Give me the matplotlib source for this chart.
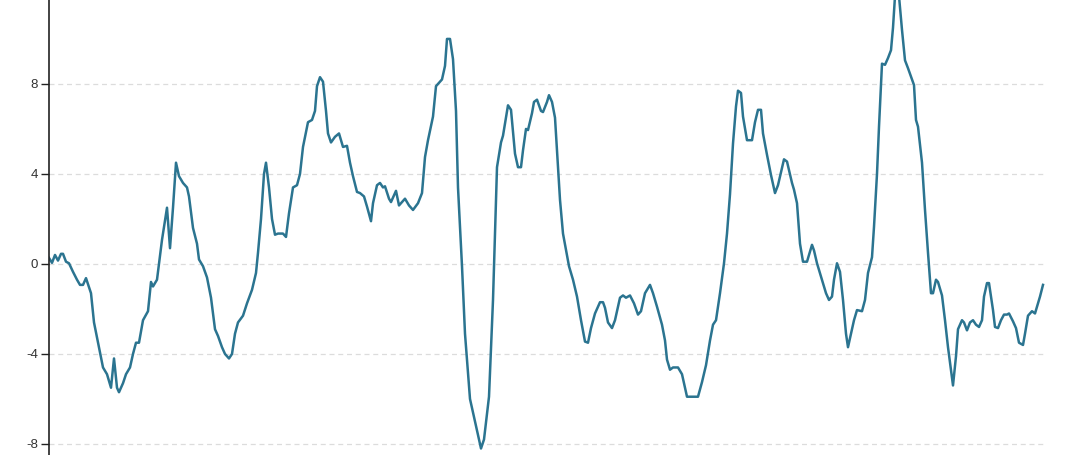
import matplotlib
matplotlib.use("Agg")
import matplotlib.pyplot as plt

# sample position (time units) and value
t = [49, 52, 55, 58, 61, 63, 66, 69, 73, 77,
     80, 83, 86, 91, 94, 99, 103, 107, 111, 114,
     117, 119, 123, 126, 130, 133, 136, 139, 143, 148,
     151, 153, 157, 162, 167, 170, 173, 176, 179, 183,
     187, 189, 193, 197, 199, 203, 207, 211, 215, 218,
     222, 225, 229, 232, 235, 238, 243, 247, 252, 256,
     258, 261, 264, 266, 269, 272, 275, 278, 283, 286,
     289, 293, 297, 300, 303, 308, 312, 315, 317, 320,
     323, 326, 328, 331, 335, 339, 343, 347, 350, 353,
     357, 360, 364, 367, 371, 373, 377, 380, 383, 385,
     389, 391, 396, 399, 405, 409, 413, 418, 422, 425,
     428, 433, 436, 442, 445, 447, 450, 453, 456, 458,
     462, 465, 470, 476, 481, 484, 489, 493, 497, 501,
     503, 508, 511, 515, 518, 521, 523, 526, 528, 532,
     534, 537, 541, 543, 547, 549, 552, 555, 557, 560,
     563, 567, 569, 573, 577, 581, 585, 588, 591, 595,
     600, 603, 605, 608, 612, 615, 620, 623, 626, 630,
     634, 638, 641, 645, 650, 653, 657, 662, 665, 667,
     670, 673, 678, 682, 685, 687, 692, 698, 702, 706,
     710, 713, 716, 720, 724, 727, 730, 733, 736, 738,
     741, 743, 747, 752, 755, 758, 761, 763, 767, 771,
     775, 778, 784, 787, 792, 794, 797, 800, 803, 807,
     812, 814, 817, 822, 826, 829, 832, 834, 837, 840,
     843, 846, 848, 852, 854, 857, 862, 865, 868, 872,
     874, 877, 879, 882, 885, 888, 891, 893, 895, 897,
     899, 902, 905, 908, 912, 914, 916, 918, 922, 925,
     928, 931, 933, 936, 938, 942, 945, 948, 953, 956,
     958, 962, 964, 967, 970, 973, 976, 979, 982, 984,
     987, 989, 993, 995, 998, 1001, 1004, 1007, 1009, 1013,
     1016, 1019, 1023, 1025, 1028, 1032, 1035, 1037, 1040, 1043]
value = [0.27, 0.05, 0.4, 0.15, 0.45, 0.45, 0.1, 0.03, -0.35, -0.7,
         -0.93, -0.93, -0.63, -1.3, -2.6, -3.7, -4.6, -4.9, -5.5, -4.2,
         -5.5, -5.7, -5.3, -4.9, -4.6, -4.0, -3.5, -3.5, -2.5, -2.1,
         -0.8, -1.0, -0.7, 1.07, 2.5, 0.7, 2.5, 4.5, 3.9, 3.6,
         3.4, 3.0, 1.6, 0.9, 0.2, -0.1, -0.6, -1.5, -2.9, -3.2,
         -3.7, -4.0, -4.2, -4.0, -3.1, -2.6, -2.3, -1.75, -1.15, -0.4,
         0.5, 2.0, 4.0, 4.5, 3.4, 2.0, 1.3, 1.35, 1.35, 1.2,
         2.25, 3.4, 3.5, 4.0, 5.2, 6.3, 6.4, 6.8, 7.9, 8.3,
         8.1, 6.8, 5.8, 5.4, 5.65, 5.8, 5.2, 5.25, 4.5, 3.9,
         3.2, 3.15, 3.0, 2.55, 1.9, 2.7, 3.5, 3.6, 3.4, 3.45,
         2.9, 2.75, 3.25, 2.6, 2.9, 2.6, 2.4, 2.7, 3.15, 4.75,
         5.5, 6.55, 7.9, 8.2, 8.8, 10.0, 10.0, 9.1, 6.8, 3.4,
         -0.1, -3.1, -6.0, -7.2, -8.2, -7.8, -5.9, -1.6, 4.3, 5.4,
         5.7, 7.05, 6.85, 4.9, 4.3, 4.3, 5.05, 6.0, 5.95, 6.7,
         7.2, 7.3, 6.8, 6.75, 7.2, 7.5, 7.2, 6.5, 5.05, 2.85,
         1.35, 0.4, -0.1, -0.7, -1.45, -2.5, -3.45, -3.5, -2.85, -2.2,
         -1.7, -1.7, -1.95, -2.6, -2.85, -2.5, -1.5, -1.4, -1.5, -1.4,
         -1.75, -2.25, -2.1, -1.3, -0.93, -1.3, -1.9, -2.7, -3.4, -4.25,
         -4.7, -4.6, -4.6, -4.9, -5.5, -5.9, -5.9, -5.9, -5.25, -4.5,
         -3.4, -2.7, -2.5, -1.3, 0.03, 1.35, 3.1, 5.35, 7.0, 7.7,
         7.6, 6.55, 5.5, 5.5, 6.3, 6.85, 6.85, 5.8, 4.85, 3.95,
         3.15, 3.5, 4.65, 4.55, 3.6, 3.3, 2.7, 0.9, 0.1, 0.1,
         0.85, 0.6, 0.03, -0.7, -1.3, -1.6, -1.45, -0.7, 0.03, -0.35,
         -1.6, -3.1, -3.7, -2.9, -2.5, -2.05, -2.1, -1.6, -0.4, 0.3,
         1.65, 4.0, 6.1, 8.9, 8.85, 9.15, 9.5, 10.5, 11.9, 12.3,
         11.9, 10.4, 9.05, 8.7, 8.2, 7.95, 6.4, 6.1, 4.5, 2.4,
         0.5, -1.3, -1.3, -0.7, -0.8, -1.4, -2.5, -3.7, -5.4, -4.1,
         -2.9, -2.5, -2.6, -2.95, -2.6, -2.5, -2.7, -2.8, -2.5, -1.45,
         -0.85, -0.85, -2.05, -2.8, -2.85, -2.5, -2.25, -2.25, -2.2, -2.55,
         -2.85, -3.5, -3.6, -3.1, -2.3, -2.1, -2.2, -1.9, -1.45, -0.93]
yticks = [-8, -4, 0, 4, 8]
ytick_labels = ["-8", "-4", "0", "4", "8"]

fig = plt.figure(figsize=(10.7, 4.55), dpi=100)
ax = fig.add_axes([49 / 1070, 0, 996 / 1070, 1])

ax.plot(t, value, color="#2b7490", linewidth=1.8, solid_joinstyle="round")

ax.set_xlim(49, 1045)
ax.set_ylim(-8.49, 11.73)
ax.set_yticks(yticks)
ax.set_yticklabels(ytick_labels)
ax.set_xticks([])

ax.grid(axis="y", color="#dcdcdc", linestyle=(0, (4, 3)), linewidth=0.9)
ax.set_axisbelow(True)

for side in ["top", "right", "bottom"]:
    ax.spines[side].set_visible(False)
ax.spines["left"].set_color("#222222")
ax.spines["left"].set_linewidth(1.2)
ax.tick_params(axis="y", length=6, width=1, color="#222222", labelsize=9.5,
               labelcolor="#333333", pad=2)
for lbl in ax.get_yticklabels():
    lbl.set_family(["Liberation Sans", "DejaVu Sans"])

fig.savefig("out.png", dpi=100)
